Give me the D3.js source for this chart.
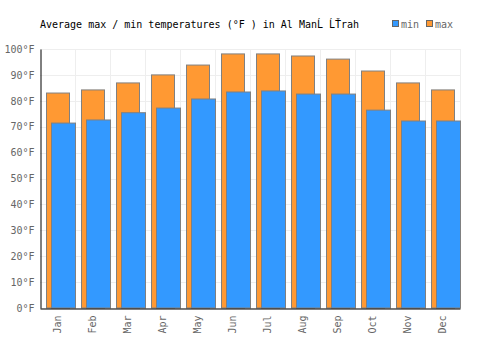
<!DOCTYPE html>
<html>
<head>
<meta charset="utf-8">
<script src="https://cdn.jsdelivr.net/npm/d3@7"></script>
<style>
  body { margin: 0; background: #fff; }
  text { font-family: "DejaVu Sans Mono", monospace; }
</style>
</head>
<body>
<script>
const months = ["Jan", "Feb", "Mar", "Apr", "May", "Jun", "Jul", "Aug", "Sep", "Oct", "Nov", "Dec"];
const maxTemps = [83.0, 84.2, 86.9, 90.0, 93.8, 98.1, 98.1, 97.3, 96.1, 91.5, 86.9, 84.2];
const minTemps = [71.4, 72.6, 75.4, 77.2, 80.7, 83.4, 83.8, 82.6, 82.6, 76.4, 72.2, 72.2];
const yTicks = [0, 10, 20, 30, 40, 50, 60, 70, 80, 90, 100];

const width = 500, height = 350;
const margin = {left: 40, right: 40, top: 49, bottom: 42};

const svg = d3.select("body").append("svg")
  .attr("width", width)
  .attr("height", height);

const x = d3.scaleBand()
  .domain(months)
  .range([margin.left, width - margin.right]);

const y = d3.scaleLinear()
  .domain([0, 100])
  .range([height - margin.bottom, margin.top]);

const bw = x.bandwidth();

// grid
svg.append("g")
  .selectAll("line")
  .data(yTicks)
  .enter().append("line")
  .attr("x1", margin.left).attr("x2", width - margin.right)
  .attr("y1", (d) => Math.round(y(d)) + 0.5).attr("y2", (d) => Math.round(y(d)) + 0.5)
  .attr("stroke", "#eee");

svg.append("g")
  .selectAll("line")
  .data(months.slice(1).concat(["end"]))
  .enter().append("line")
  .attr("x1", (d) => Math.round(d == "end" ? x.range()[1] : x(d)) + 0.5)
  .attr("x2", (d) => Math.round(d == "end" ? x.range()[1] : x(d)) + 0.5)
  .attr("y1", y(100)).attr("y2", y(0))
  .attr("stroke", "#eee");

// max bars
svg.append("g")
  .selectAll("rect")
  .data(maxTemps)
  .enter().append("rect")
  .attr("x", (d, i) => Math.round(x(months[i]) + bw * 0.17) + 0.5)
  .attr("y", (d) => y(d))
  .attr("width", Math.round(bw * 0.66))
  .attr("height", (d) => y(0) - y(d))
  .attr("fill", "#ff9933")
  .attr("stroke", "#808080");

// min bars
svg.append("g")
  .selectAll("rect")
  .data(minTemps)
  .enter().append("rect")
  .attr("x", (d, i) => Math.round(x(months[i]) + bw * 0.32) + 0.5)
  .attr("y", (d) => y(d))
  .attr("width", Math.round(bw * 0.68))
  .attr("height", (d) => y(0) - y(d))
  .attr("fill", "#3399ff")
  .attr("stroke", "#808080");

// axes
const yAxis = d3.axisLeft(y)
  .tickValues(yTicks)
  .tickSize(0)
  .tickPadding(6)
  .tickFormat((d) => d + "°F");

svg.append("g")
  .attr("transform", "translate(" + (margin.left + 0.5) + ",0)")
  .call(yAxis)
  .call((g) => g.select(".domain").attr("stroke", "#000"))
  .call((g) => g.selectAll("text").attr("fill", "#666").attr("font-size", 10)
    .attr("font-family", "DejaVu Sans Mono"));

const xAxis = d3.axisBottom(x).tickSize(0).tickPadding(0);

svg.append("g")
  .attr("transform", "translate(0," + (y(0) + 0.5) + ")")
  .call(xAxis)
  .call((g) => g.select(".domain").attr("stroke", "#000"))
  .call((g) => g.selectAll("text")
    .attr("fill", "#666")
    .attr("font-size", 10)
    .attr("font-family", "DejaVu Sans Mono")
    .attr("text-anchor", "end")
    .attr("transform", "rotate(-90)")
    .attr("x", -7)
    .attr("y", 0)
    .attr("dy", "0.35em"));

// title
svg.append("text")
  .attr("x", 40)
  .attr("y", 28)
  .attr("font-size", 10)
  .attr("fill", "#000")
  .text("Average max / min temperatures (°F ) in Al ManĹ ĹŤrah");

// legend
const legend = [{name: "min", color: "#3399ff", x: 392}, {name: "max", color: "#ff9933", x: 426}];
const lg = svg.append("g").selectAll("g").data(legend).enter().append("g")
  .attr("transform", (d) => "translate(" + d.x + ",0)");
lg.append("rect")
  .attr("x", 0.5).attr("y", 20.5)
  .attr("width", 6).attr("height", 6)
  .attr("fill", (d) => d.color)
  .attr("stroke", "#666");
lg.append("text")
  .attr("x", 9).attr("y", 28)
  .attr("font-size", 10)
  .attr("fill", "#666")
  .text((d) => d.name);
</script>
</body>
</html>
